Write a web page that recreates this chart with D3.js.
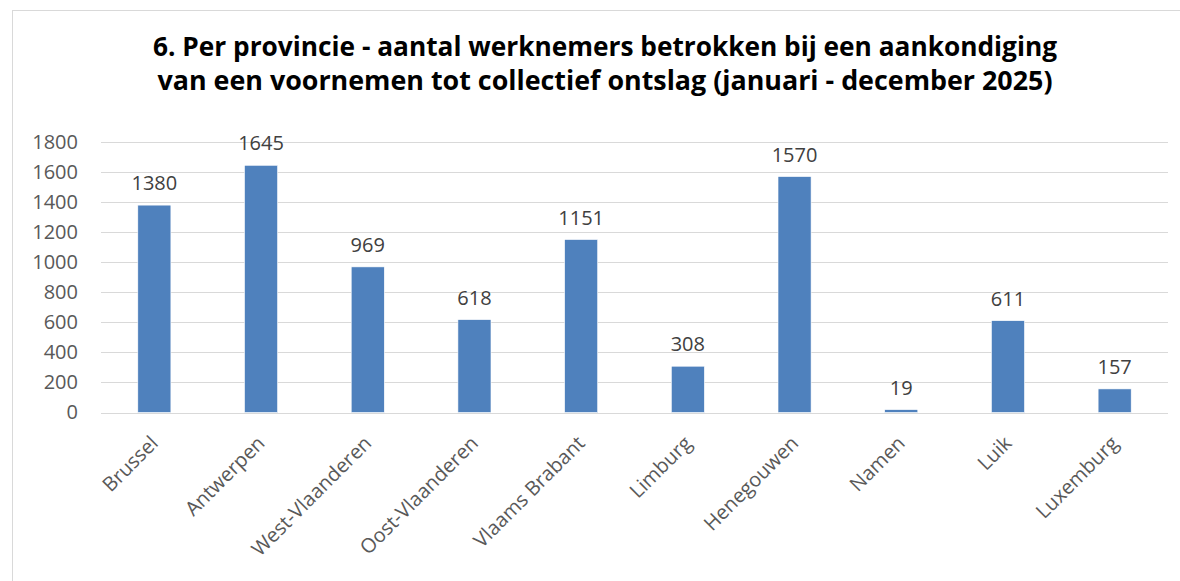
<!DOCTYPE html>
<html>
<head>
<meta charset="utf-8">
<script src="https://cdn.jsdelivr.net/npm/d3@7"></script>
<style>
  html, body { margin: 0; padding: 0; background: #fff; }
  svg { display: block; }
</style>
</head>
<body>
<svg id="chart" width="1180" height="581"></svg>
<script>
const categories = ["Brussel", "Antwerpen", "West-Vlaanderen", "Oost-Vlaanderen", "Vlaams Brabant", "Limburg", "Henegouwen", "Namen", "Luik", "Luxemburg"];
const values = [1380, 1645, 969, 618, 1151, 308, 1570, 19, 611, 157];
const yTicks = [0, 200, 400, 600, 800, 1000, 1200, 1400, 1600, 1800];
const titleLines = [
  "6. Per provincie - aantal werknemers betrokken bij een aankondiging",
  "van een voornemen tot collectief ontslag (januari - december 2025)"
];

const svg = d3.select("#chart");
const font = "'Open Sans', 'Noto Sans', sans-serif";

// frame
svg.append("rect")
  .attr("x", 12.5).attr("y", 10.5)
  .attr("width", 1200).attr("height", 600)
  .attr("fill", "#fff").attr("stroke", "#d9d9d9").attr("stroke-width", 1);

const plot = { left: 101, right: 1168, top: 142, bottom: 412.5 };

const x = d3.scaleBand().domain(categories).range([plot.left, plot.right]).paddingInner(0.69).paddingOuter(0.345);
const y = d3.scaleLinear().domain([0, 1800]).range([plot.bottom, plot.top]);

// gridlines
svg.append("g").selectAll("line").data(yTicks).join("line")
  .attr("x1", plot.left).attr("x2", plot.right)
  .attr("y1", d => Math.round(y(d)) + 0.5).attr("y2", d => Math.round(y(d)) + 0.5)
  .attr("stroke", "#d9d9d9").attr("stroke-width", 1);

// y axis labels
const yAxis = d3.axisLeft(y).tickValues(yTicks).tickSize(0).tickPadding(0).tickFormat(d3.format("d"));
const gy = svg.append("g").attr("transform", `translate(78,0)`).call(yAxis);
gy.select(".domain").remove();
gy.selectAll("text")
  .attr("font-family", font).attr("font-size", 20).attr("fill", "#595959");

// bars
svg.append("g").selectAll("rect").data(values).join("rect")
  .attr("x", (d, i) => x(categories[i]))
  .attr("width", x.bandwidth())
  .attr("y", d => y(d))
  .attr("height", d => y(0) - y(d))
  .attr("fill", "#4f81bd")
  .attr("stroke", "#fff").attr("stroke-width", 0.6);

// data labels
svg.append("g").selectAll("text").data(values).join("text")
  .attr("x", (d, i) => x(categories[i]) + x.bandwidth() / 2)
  .attr("y", d => y(d) - 15)
  .attr("text-anchor", "middle")
  .attr("font-family", font).attr("font-size", 20).attr("fill", "#404040")
  .text(d => d);

// x axis labels
const xAxis = d3.axisBottom(x).tickSize(0).tickPadding(0);
const gx = svg.append("g").attr("transform", `translate(0,${plot.bottom})`).call(xAxis);
gx.select(".domain").remove();
gx.selectAll("text")
  .attr("font-family", font).attr("font-size", 20).attr("fill", "#595959")
  .attr("text-anchor", "end")
  .attr("dy", "0").attr("y", 0)
  .attr("transform", "translate(5,32) rotate(-45)");

// title
const title = svg.append("g");
title.selectAll("text").data(titleLines).join("text")
  .attr("x", 605).attr("y", (d, i) => 56 + i * 34)
  .attr("text-anchor", "middle")
  .attr("font-family", font).attr("font-weight", "bold").attr("font-size", 26)
  .attr("fill", "#000")
  .attr("textLength", (d, i) => i === 0 ? 904 : 895)
  .attr("lengthAdjust", "spacingAndGlyphs")
  .text(d => d);
</script>
</body>
</html>
